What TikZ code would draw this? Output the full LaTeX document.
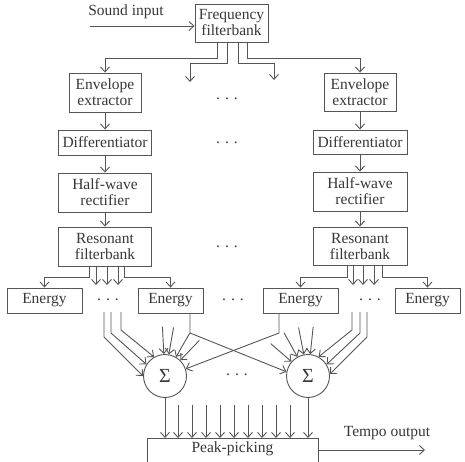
\documentclass[tikz,border=0pt]{standalone}
\usepackage{fontspec}
\setmainfont{Liberation Serif}
\usetikzlibrary{arrows.meta,calc}
\definecolor{linegray}{RGB}{85,85,85}
\definecolor{textgray}{RGB}{55,55,55}
\newcommand{\bodyfont}{\fontsize{15.5}{16}\selectfont}
\newcommand{\spdots}{.\hspace{5pt}.\hspace{5pt}.}

\begin{document}
\begin{tikzpicture}[x=1pt,y=-1pt,
  block/.style ={draw=linegray,line width=0.9pt,inner sep=0pt,align=center,
                 text=textgray,font=\bodyfont},
  sumnode/.style={draw=linegray,line width=0.9pt,circle,minimum size=43pt,
                 inner sep=0pt,text=textgray,font=\fontsize{20}{20}\selectfont},
  lbl/.style   ={text=textgray,font=\bodyfont},
  wire/.style  ={draw=linegray,line width=0.9pt},
  arr/.style   ={wire,-{Straight Barb[length=5pt,width=9pt]}},
]
\useasboundingbox (0,0) rectangle (465,462);

\node[block,minimum width=73pt,minimum height=38pt] (freq) at (231.5,23) {Frequency\\filterbank};
\node[lbl] (snd) at (126,12) {Sound input};
\coordinate (sin) at (90,26);
\draw[arr] (sin) -- (sin -| freq.west);

\node[block,minimum width=72pt,minimum height=39pt] (env1) at (105,92.5) {Envelope\\extractor};
\node[block,minimum width=72pt,minimum height=38pt] (env2) at (360,92) {Envelope\\extractor};
\node[block,minimum width=93pt,minimum height=25pt] (diff1) at (105,142.5) {Differentiator};
\node[block,minimum width=94pt,minimum height=24pt] (diff2) at (360,142) {Differentiator};
\node[block,minimum width=93pt,minimum height=39pt] (half1) at (105,192.5) {Half-wave\\rectifier};
\node[block,minimum width=94pt,minimum height=39pt] (half2) at (360,191.5) {Half-wave\\rectifier};
\node[block,minimum width=93pt,minimum height=39pt] (res1) at (105,246.5) {Resonant\\filterbank};
\node[block,minimum width=94pt,minimum height=38pt] (res2) at (360,246) {Resonant\\filterbank};

\node[lbl] (d1) at (227,99) {\spdots};
\node[lbl] (d2) at (227,143) {\spdots};
\node[lbl] (d3) at (227,247) {\spdots};

\coordinate (f2) at (190,82);
\coordinate (f3) at (274,80);
\draw[arr] (217,0 |- freq.south) |- (env1.north |- 0,58) -- (env1.north);
\draw[arr] (227,0 |- freq.south) |- (f2 |- 0,63) -- (f2);
\draw[arr] (238,0 |- freq.south) |- (f3 |- 0,63) -- (f3);
\draw[arr] (247,0 |- freq.south) |- (env2.north |- 0,58) -- (env2.north);

\draw[arr] (env1) -- (diff1);
\draw[arr] (diff1) -- (half1);
\draw[arr] (half1) -- (res1);
\draw[arr] (env2) -- (diff2);
\draw[arr] (diff2) -- (half2);
\draw[arr] (half2) -- (res2);

\node[block,minimum width=75pt,minimum height=25pt] (e1) at (44.5,300.5) {Energy};
\node[block,minimum width=65pt,minimum height=25pt] (e2) at (170.5,300.5) {Energy};
\node[block,minimum width=75pt,minimum height=25pt] (e3) at (300.5,300.5) {Energy};
\node[block,minimum width=65pt,minimum height=25pt] (e4) at (427.5,300.5) {Energy};
\node[lbl] (d4) at (108,300) {\spdots};
\node[lbl] (d5) at (233,300) {\spdots};
\node[lbl] (d6) at (370,300) {\spdots};

\draw[arr] (89,0 |- res1.south) |- (e1.north |- 0,277) -- (e1.north);
\draw[arr] (124,0 |- res1.south) |- (e2.north |- 0,277) -- (e2.north);
\foreach \x in {96,107,118}
  \draw[arr] (\x,0 |- res1.south) -- (\x,285);
\draw[arr] (347,0 |- res2.south) |- (e3.north |- 0,277) -- (e3.north);
\draw[arr] (382,0 |- res2.south) |- (e4.north |- 0,277) -- (e4.north);
\foreach \x in {353,363,374}
  \draw[arr] (\x,0 |- res2.south) -- (\x,285);

\node[sumnode] (s1) at (165,376) {Σ};
\node[sumnode] (s2) at (308,376) {Σ};
\node[lbl] (d7) at (237,375) {\spdots};

\draw[arr] (104,312) -- (104,337) -- (s1.180);
\draw[arr] (111,312) -- (111,333) -- (s1.148);
\draw[arr] (121,312) -- (121,330) -- (s1.120);
\foreach \a in {93,80,60,46}
  \draw[arr] ($(s1.center)!2.25!(s1.\a)$) -- (s1.\a);

\draw[arr] (367,312) -- (367,337) -- (s2.5);
\draw[arr] (360,312) -- (360,333) -- (s2.32);
\draw[arr] (352,312) -- (352,330) -- (s2.61);
\foreach \a in {139,119,101,84}
  \draw[arr] ($(s2.center)!2.25!(s2.\a)$) -- (s2.\a);

\draw[arr] (e2.south -| 190,0) -- (190,333) -- (s2.169);
\draw[arr] (e3.south -| 279,0) -- (279,333) -- (s1.19);

\node[block,minimum width=171pt,anchor=north,inner ysep=2pt,
      text height=12pt,text depth=24pt] (pk) at (232.5,438) {Peak-picking};
\draw[arr] (s1.south) -- (s1.south |- pk.north);
\draw[arr] (s2.south) -- (s2.south |- pk.north);
\foreach \x in {178,192,...,290}
  \draw[arr] (\x,405) -- (\x,405 |- pk.north);

\node[lbl] (tmp) at (387,433) {Tempo output};
\coordinate (tout) at (425,450);
\draw[arr] (tout -| pk.east) -- (tout);
\end{tikzpicture}
\end{document}
